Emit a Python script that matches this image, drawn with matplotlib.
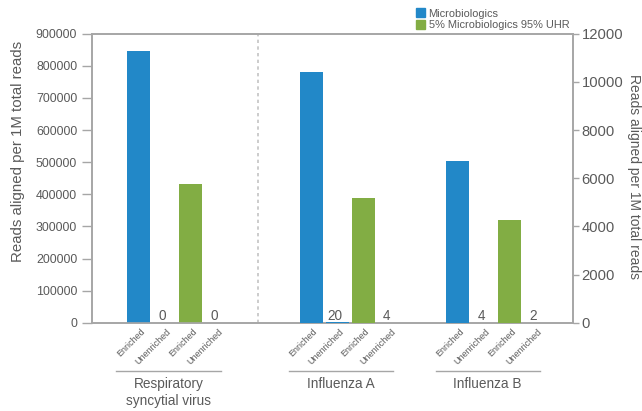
import matplotlib.pyplot as plt
import matplotlib.transforms as mtransforms
import numpy as np

plt.rcParams['font.family'] = ['Liberation Sans', 'DejaVu Sans']

# data
groups = ["Respiratory\nsyncytial virus", "Influenza A", "Influenza B"]
conditions = ["Enriched", "Unenriched"]
series = ["Microbiologics", "5% Microbiologics 95% UHR"]
# reads aligned per 1M total reads: [enriched, unenriched] per series
microbio = [[845000, 0], [10420, 20], [6730, 4]]
uhr_mix = [[433000, 0], [5180, 4], [4280, 2]]
left_ticks = np.arange(0, 900001, 100000)
right_ticks = np.arange(0, 12001, 2000)

blue = '#2288c8'
green = '#82ad44'
grey_txt = '#5a5a5a'
grey_line = '#a6a6a6'

W, H = 642, 411
fig = plt.figure(figsize=(W / 100, H / 100), dpi=100)
ax_l, ax_r, ax_t, ax_b = 92, 573.3, 33.7, 322.8
ax = fig.add_axes([ax_l / W, 1 - ax_b / H, (ax_r - ax_l) / W, (ax_b - ax_t) / H])
ax2 = ax.twinx()

slot = 26.0                      # px between bars
group_centers = [85.5, 258.0, 404.5]  # px from left spine
bar_w = 23.0
ax.set_xlim(0, ax_r - ax_l)
ax.set_ylim(0, 900000)
ax2.set_ylim(0, 12000)

offsets = np.array([-1.5, -0.5, 0.5, 1.5]) * slot
for gi, gc in enumerate(group_centers):
    target = ax if gi == 0 else ax2
    xs = gc + offsets
    vals = [microbio[gi][0], microbio[gi][1], uhr_mix[gi][0], uhr_mix[gi][1]]
    cols = [blue, blue, green, green]
    target.bar(xs, vals, width=bar_w, color=cols, zorder=3)
    # value labels on unenriched bars
    for k in (1, 3):
        tr = mtransforms.offset_copy(ax.get_xaxis_transform(), fig=fig, x=-2.5, y=2.5, units='dots')
        ax.text(xs[k], 0, str(vals[k]), transform=tr, ha='center', va='baseline',
                fontsize=9.8, color=grey_txt)
    # rotated condition labels
    for k in range(4):
        tr = mtransforms.offset_copy(ax.get_xaxis_transform(), fig=fig, x=2, y=-4, units='dots')
        ax.text(xs[k], 0, conditions[k % 2], transform=tr, rotation=45, ha='right', va='top',
                rotation_mode='anchor', fontsize=6.5, color=grey_txt)
    # group underline and label
    line_tr = mtransforms.offset_copy(ax.get_xaxis_transform(), fig=fig, x=0, y=-(371 - ax_b), units='dots')
    ax.plot([gc - 61, gc + 43], [0, 0], transform=line_tr, color=grey_line, lw=1.0, clip_on=False)
    lab_tr = mtransforms.offset_copy(ax.get_xaxis_transform(), fig=fig, x=0, y=-(376.5 - ax_b), units='dots')
    ax.text(gc - 9, 0, groups[gi], transform=lab_tr, ha='center', va='top',
            fontsize=9.8, color=grey_txt, linespacing=1.3)

# dashed separator
ax.axvline(165.7, color='#c4c4c4', lw=1.2, ls=(0, (2, 2)), zorder=1)

ax.set_xticks([])
ax.set_yticks(left_ticks)
ax.tick_params(axis='y', length=7.2, width=1, color=grey_line, labelcolor=grey_txt,
               labelsize=8.9, pad=3.5)
ax2.set_yticks(right_ticks)
ax2.tick_params(axis='y', length=4.5, width=1, color=grey_line, labelcolor=grey_txt,
                labelsize=10.6, pad=1.5)

for a in (ax, ax2):
    for s in a.spines.values():
        s.set_color(grey_line)
        s.set_linewidth(1.2)

ax.set_ylabel("Reads aligned per 1M total reads", fontsize=10.8, color=grey_txt)
ax.yaxis.set_label_coords(-0.140, 1 - (151.7 - ax_t) / (ax_b - ax_t))
ax2.set_ylabel("Reads aligned per 1M total reads", fontsize=10, color=grey_txt, rotation=270)
ax2.yaxis.set_label_coords(1.140, 1 - (176 - ax_t) / (ax_b - ax_t))

# legend
h1 = plt.Rectangle((0, 0), 1, 1, color=blue)
h2 = plt.Rectangle((0, 0), 1, 1, color=green)
leg = fig.legend([h1, h2], series, loc='upper left', bbox_to_anchor=(416 / W, 1 - 8.5 / H),
                 frameon=False, fontsize=7.9, handlelength=0.85, handleheight=0.85,
                 handletextpad=0.3, labelspacing=0.1, borderpad=0, borderaxespad=0)
for t in leg.get_texts():
    t.set_color(grey_txt)

fig.savefig('out.png', dpi=100)
